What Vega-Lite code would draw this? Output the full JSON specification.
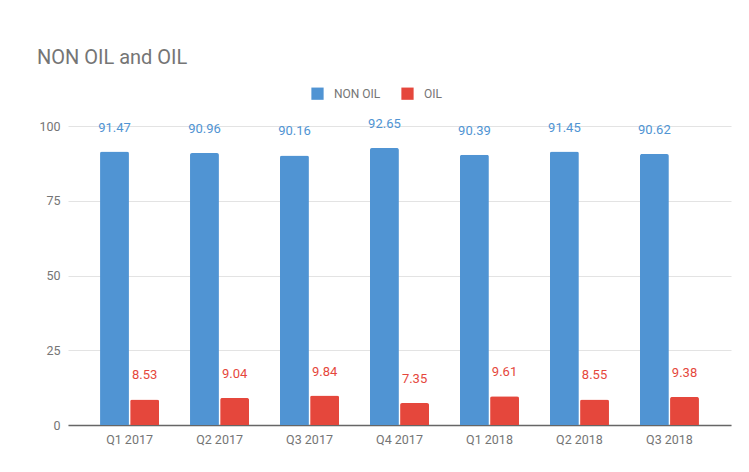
{
  "$schema": "https://vega.github.io/schema/vega-lite/v6.json",
  "autosize": "none",
  "width": 663,
  "height": 299,
  "padding": {"left": 68, "top": 126, "right": 18, "bottom": 47},
  "background": "white",
  "config": {
    "font": "Roboto",
    "view": {"stroke": null},
    "axis": {"labelFont": "Roboto", "labelColor": "#757575", "labelFontSize": 12.5, "title": null}
  },
  "title": {
    "text": "NON OIL and OIL",
    "anchor": "start",
    "frame": "group",
    "dx": -31,
    "fontSize": 20,
    "font": "Roboto",
    "fontWeight": "normal",
    "color": "#757575",
    "offset": 19
  },
  "data": {
    "values": [
      {"Quarter": "Q1 2017", "Series": "NON OIL", "Value": 91.47},
      {"Quarter": "Q1 2017", "Series": "OIL", "Value": 8.53},
      {"Quarter": "Q2 2017", "Series": "NON OIL", "Value": 90.96},
      {"Quarter": "Q2 2017", "Series": "OIL", "Value": 9.04},
      {"Quarter": "Q3 2017", "Series": "NON OIL", "Value": 90.16},
      {"Quarter": "Q3 2017", "Series": "OIL", "Value": 9.84},
      {"Quarter": "Q4 2017", "Series": "NON OIL", "Value": 92.65},
      {"Quarter": "Q4 2017", "Series": "OIL", "Value": 7.35},
      {"Quarter": "Q1 2018", "Series": "NON OIL", "Value": 90.39},
      {"Quarter": "Q1 2018", "Series": "OIL", "Value": 9.61},
      {"Quarter": "Q2 2018", "Series": "NON OIL", "Value": 91.45},
      {"Quarter": "Q2 2018", "Series": "OIL", "Value": 8.55},
      {"Quarter": "Q3 2018", "Series": "NON OIL", "Value": 90.62},
      {"Quarter": "Q3 2018", "Series": "OIL", "Value": 9.38}
    ]
  },
  "encoding": {
    "x": {
      "field": "Quarter",
      "type": "nominal",
      "sort": null,
      "scale": {"paddingInner": 0.344, "paddingOuter": 0.356},
      "axis": {"labelAngle": 0, "ticks": false, "domain": true, "domainColor": "#666666", "domainWidth": 1.5, "labelPadding": 8, "grid": false}
    },
    "xOffset": {
      "field": "Series",
      "type": "nominal",
      "sort": ["NON OIL", "OIL"],
      "scale": {"paddingInner": 0.04}
    },
    "y": {
      "field": "Value",
      "type": "quantitative",
      "scale": {"domain": [0, 100], "nice": false},
      "axis": {"values": [0, 25, 50, 75, 100], "domain": false, "ticks": false, "gridColor": "#e3e3e3", "labelPadding": 8}
    },
    "color": {
      "field": "Series",
      "type": "nominal",
      "scale": {"domain": ["NON OIL", "OIL"], "range": ["#5094d3", "#e5473c"]},
      "legend": {
        "title": null,
        "orient": "none",
        "direction": "horizontal",
        "legendX": 243,
        "legendY": -39,
        "symbolType": "square",
        "symbolSize": 150,
        "symbolStrokeWidth": 0,
        "labelFont": "Roboto",
        "labelFontSize": 12,
        "labelColor": "#757575",
        "labelOffset": 10,
        "columnPadding": 20
      }
    }
  },
  "layer": [
    {"mark": {"type": "bar", "cornerRadiusTopLeft": 2, "cornerRadiusTopRight": 2}},
    {
      "mark": {"type": "text", "dy": -24, "baseline": "middle", "fontSize": 13, "font": "Roboto"},
      "encoding": {"text": {"field": "Value", "type": "quantitative", "format": ".2f"}}
    }
  ]
}
